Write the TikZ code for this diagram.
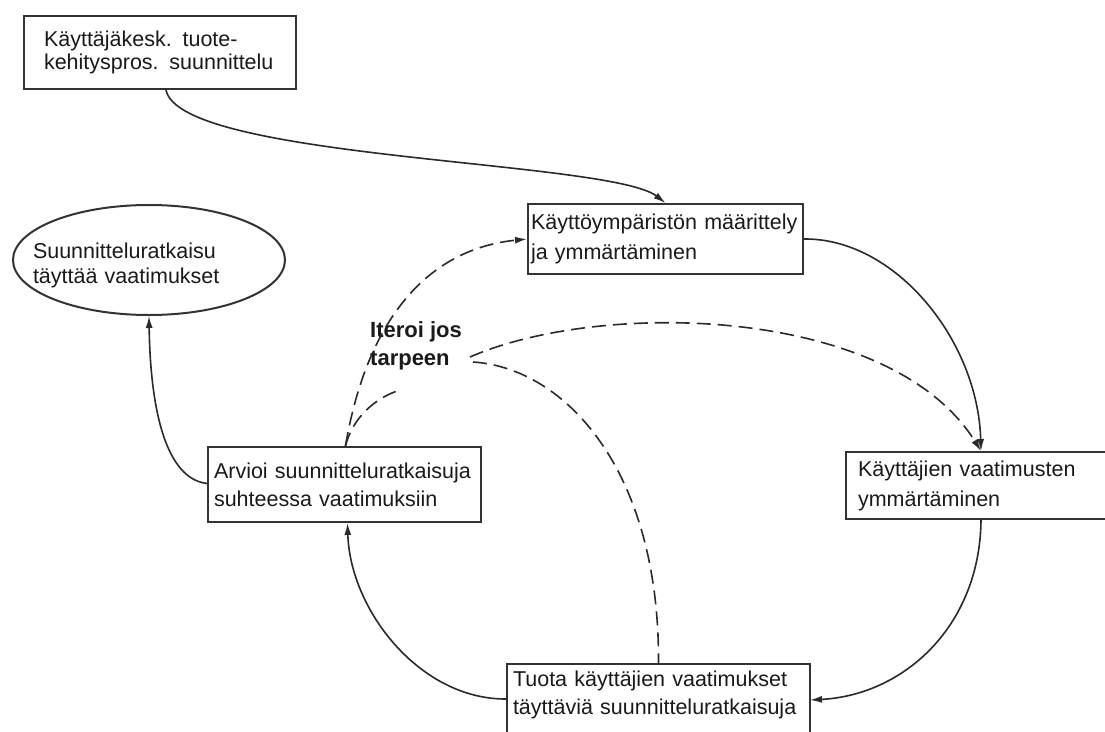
\documentclass[tikz,border=0pt]{standalone}
\usepackage{fontspec}
\setmainfont{Liberation Sans}
\usetikzlibrary{arrows.meta,shapes.geometric}
\definecolor{boxc}{HTML}{333333}
\definecolor{linec}{HTML}{2A2A2A}
\definecolor{txt}{HTML}{1A1A1A}
\tikzset{
  boxnode/.style={draw=boxc, line width=2pt, rectangle, align=left, inner ysep=0pt,
    anchor=north west, text=txt},
  conn/.style={draw=linec, line width=1.6pt, -{Latex[length=12pt,width=7pt]}},
  dconn/.style={conn, dash pattern=on 14pt off 7pt},
  dline/.style={draw=linec, line width=1.6pt, dash pattern=on 14pt off 7pt},
}
\begin{document}
\begin{tikzpicture}[x=1pt,y=-1pt]
\useasboundingbox (0,0) rectangle (1105,731);
\fill[white] (0,0) rectangle (1105,731);
\clip (0,0) rectangle (1105,731);

% boxes
\node[boxnode, minimum width=272pt, minimum height=73pt, inner xsep=20pt, text width=232pt,
  font=\fontsize{21.5}{23}\selectfont] (A) at (23,15)
  {Käyttäjäkesk. tuote-\\kehityspros. suunnittelu};
\node[boxnode, minimum width=275pt, minimum height=70pt, inner xsep=3pt, text width=269pt,
  font=\fontsize{21.5}{30}\selectfont] (B) at (527,203)
  {Käyttöympäristön määrittely\\ja ymmärtäminen};
\node[boxnode, minimum width=270pt, minimum height=67pt, inner xsep=12pt, text width=246pt,
  font=\fontsize{21.5}{30}\selectfont] (C) at (845,451)
  {Käyttäjien vaatimusten\\ymmärtäminen};
\node[boxnode, minimum width=273pt, minimum height=75pt, inner xsep=6pt, text width=261pt,
  font=\fontsize{21.5}{28}\selectfont] (E) at (207,446)
  {Arvioi suunnitteluratkaisuja\\suhteessa vaatimuksiin};
\node[boxnode, draw=none, minimum width=301pt, minimum height=60pt, inner xsep=5pt, text width=291pt,
  font=\fontsize{21.5}{28}\selectfont] (D) at (507,664)
  {Tuota käyttäjien vaatimukset\\täyttäviä suunnitteluratkaisuja};
\draw[boxc, line width=2pt] (D.north west) rectangle ([yshift=-40pt]D.south east);

% goal ellipse
\node[ellipse, draw=boxc, line width=2pt, minimum width=272pt, minimum height=110pt, inner sep=0pt]
  (goal) at (149,260) {};
\node[align=left, text width=232pt, inner sep=0pt, text=txt, font=\fontsize{21.5}{25}\selectfont]
  (goaltext) at (149,265) {Suunnitteluratkaisu\\täyttää vaatimukset};

% iteration label
\node[align=left, anchor=west, inner sep=0pt, text=txt, font=\bfseries\fontsize{22}{28}\selectfont]
  (iter) at (370,346) {Iteroi jos\\tarpeen};
\coordinate (it0) at (397,391);
\coordinate (it1) at (470,357);
\coordinate (it2) at (473,362);

% solid connectors
\draw[conn] ([xshift=6pt]A.south) .. controls (180,160) and (610,160) .. (B.north);
\draw[conn] (B.east) .. controls (895,238) and (978,340) .. (C.north);
\draw[conn] (C.south) .. controls (980,625) and (905,695) .. ([yshift=-5pt]D.east);
\draw[conn] ([yshift=-4pt]D.west) .. controls (420,700) and (350,610) .. ([xshift=3pt]E.south);
\draw[conn] ([yshift=1pt]E.west) .. controls (160,478) and (150,390) .. (goal.south);

% dashed connectors
\draw[dconn] ([xshift=1pt]E.north) .. controls (365,330) and (420,250) .. (B.west);
\draw[dline] ([xshift=1pt]E.north) .. controls (352,420) and (372,400) .. (it0);
\draw[dconn] (it1) .. controls (600,300) and (890,305) .. (C.north);
\draw[dline] (it2) .. controls (565,368) and (660,470) .. (D.north);
\end{tikzpicture}
\end{document}
